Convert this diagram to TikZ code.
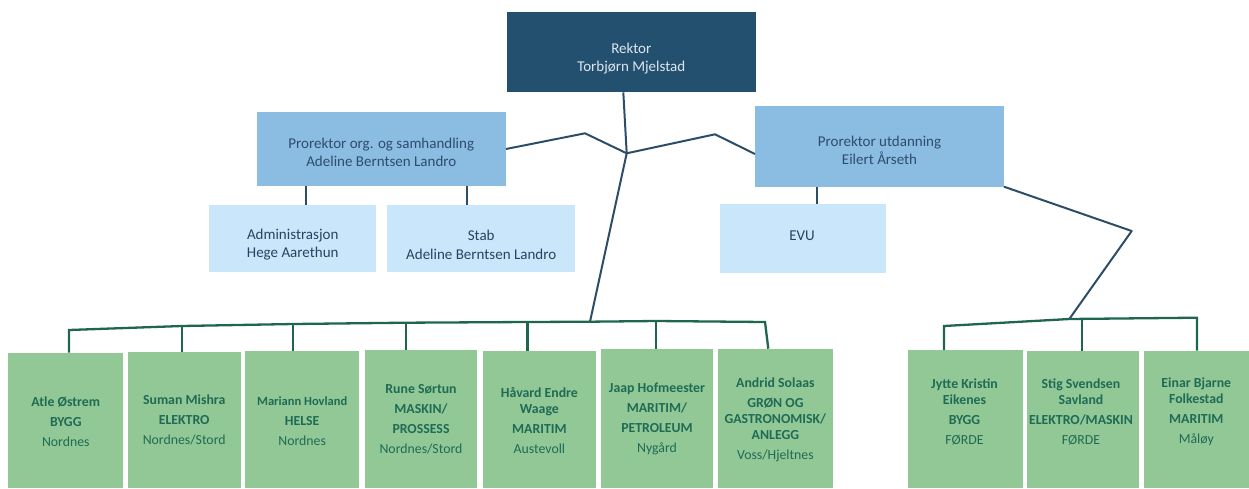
\documentclass[tikz,border=0pt]{standalone}
\usepackage{fontspec}
\setmainfont{Carlito}
\definecolor{rekfill}{HTML}{24506F}
\definecolor{rektext}{HTML}{DCE6EE}
\definecolor{profill}{HTML}{8BBDE3}
\definecolor{protext}{HTML}{2E4C6E}
\definecolor{subfill}{HTML}{C9E6FA}
\definecolor{subtext}{HTML}{2A4262}
\definecolor{grfill}{HTML}{92C896}
\definecolor{grtext}{HTML}{1F6B55}
\definecolor{upline}{HTML}{2C4D68}
\definecolor{lowline}{HTML}{1E6650}
\begin{document}
\begin{tikzpicture}[x=1pt,y=-1pt,
  basebox/.style={rectangle,anchor=north west,inner sep=0pt,outer sep=0pt,draw=none},
  rekbox/.style={basebox,fill=rekfill},
  probox/.style={basebox,fill=profill},
  subbox/.style={basebox,fill=subfill},
  gbox/.style={basebox,fill=grfill},
  bluetxt/.style={align=center,inner sep=0pt,font=\fontsize{15}{18.5}\selectfont},
  rektxt/.style={bluetxt,text=rektext},
  protxt/.style={bluetxt,text=protext},
  subtxt/.style={bluetxt,text=subtext},
  gtxt/.style={align=center,inner sep=0pt,text=grtext,font=\fontsize{13.8}{16}\selectfont},
  upconn/.style={draw=upline,line width=2pt,line join=round},
  lowconn/.style={draw=lowline,line width=2.3pt,line join=miter}
]
\useasboundingbox (0,0) rectangle (1249,488);

% top level
\node[rekbox,minimum width=249pt,minimum height=80.6pt] (rek) at (507,11.7) {};
\node[rektxt] (rekT) at (631.3,58.4) {Rektor\\Torbjørn Mjelstad};

\node[probox,minimum width=249.3pt,minimum height=74.3pt] (pro1) at (256.7,111.7) {};
\node[protxt] (pro1T) at (381.3,152.5) {Prorektor org. og samhandling\\Adeline Berntsen Landro};

\node[probox,minimum width=249pt,minimum height=81pt] (pro2) at (755,105.7) {};
\node[protxt] (pro2T) at (879.5,150.2) {Prorektor utdanning\\Eilert Årseth};

\node[subbox,minimum width=166.7pt,minimum height=67pt] (adm) at (209.3,205.3) {};
\node[subtxt] (admT) at (292.7,244.8) {Administrasjon\\Hege Aarethun};

\node[subbox,minimum width=187.7pt,minimum height=67pt] (stab) at (387.3,205.3) {};
\node[subtxt] (stabT) at (481.2,244.8) {Stab\\Adeline Berntsen Landro};

\node[subbox,minimum width=166pt,minimum height=68.4pt] (evu) at (720,204.3) {};
\node[subtxt] (evuT) at (802,235.5) {EVU};

% green boxes
\node[gbox,minimum width=115pt,minimum height=135.5pt] (g1) at (8.3,352.5) {};
\node[gbox,minimum width=113pt,minimum height=136.3pt] (g2) at (127.7,351.7) {};
\node[gbox,minimum width=114.3pt,minimum height=137.3pt] (g3) at (245,350.7) {};
\node[gbox,minimum width=112pt,minimum height=138.5pt] (g4) at (365,349.5) {};
\node[gbox,minimum width=113.3pt,minimum height=137.5pt] (g5) at (482.7,350.5) {};
\node[gbox,minimum width=112pt,minimum height=139.3pt] (g6) at (601,348.7) {};
\node[gbox,minimum width=114.7pt,minimum height=139.3pt] (g7) at (718,348.7) {};
\node[gbox,minimum width=115pt,minimum height=138pt] (g8) at (908,350) {};
\node[gbox,minimum width=112pt,minimum height=137.5pt] (g9) at (1027,350.5) {};
\node[gbox,minimum width=108pt,minimum height=137.5pt] (g10) at (1144,350.5) {};

\node[gtxt] (g1T) at (65.8,421.7) {\textbf{Atle Østrem}\\[4pt]\textbf{BYGG}\\[4pt]Nordnes};
\node[gtxt] (g2T) at (184.2,420) {\textbf{Suman Mishra}\\[4pt]\textbf{ELEKTRO}\\[4pt]Nordnes/Stord};
\node[gtxt] (g3T) at (302.2,421) {{\fontsize{12.5}{16}\selectfont\textbf{Mariann Hovland}}\\[4pt]\textbf{HELSE}\\[4pt]Nordnes};
\node[gtxt] (g4T) at (421,419) {\textbf{Rune Sørtun}\\[4pt]\textbf{MASKIN/}\\[4pt]\textbf{PROSSESS}\\[4pt]Nordnes/Stord};
\node[gtxt] (g5T) at (539.4,421) {\textbf{Håvard Endre}\\\textbf{Waage}\\[4pt]\textbf{MARITIM}\\[4pt]Austevoll};
\node[gtxt] (g6T) at (657,419) {\textbf{Jaap Hofmeester}\\[4pt]\textbf{MARITIM/}\\[4pt]\textbf{PETROLEUM}\\[4pt]Nygård};
\node[gtxt] (g7T) at (775.4,419.5) {\textbf{Andrid Solaas}\\[4pt]\textbf{GRØN OG}\\\textbf{GASTRONOMISK/}\\\textbf{ANLEGG}\\[4pt]Voss/Hjeltnes};
\node[gtxt] (g8T) at (964.5,412) {\textbf{Jytte Kristin}\\\textbf{Eikenes}\\[4pt]\textbf{BYGG}\\[4pt]FØRDE};
\node[gtxt] (g9T) at (1081,412) {\textbf{Stig Svendsen}\\\textbf{Savland}\\[4pt]\textbf{ELEKTRO/MASKIN}\\[4pt]FØRDE};
\node[gtxt] (g10T) at (1196.3,412) {\textbf{Einar Bjarne}\\\textbf{Folkestad}\\[4pt]\textbf{MARITIM}\\[4pt]Måløy};

% junction points
\coordinate (J) at (626.7,153.3);
\coordinate (k1) at (585,133.3);
\coordinate (k2) at (715,134.3);
\coordinate (k3) at (1131.7,231);
% left bus
\coordinate (b1) at (69,330);
\coordinate (b2) at (181.7,326);
\coordinate (b3) at (293.3,324);
\coordinate (b4) at (406,322.7);
\coordinate (b5) at (527.5,322);
\coordinate (bm) at (590,321.7);
\coordinate (b6) at (656,321);
\coordinate (b7) at (765,322);
% right bus
\coordinate (r1) at (944,326);
\coordinate (rm) at (1069.3,319);
\coordinate (r2) at (1082,318.8);
\coordinate (r3) at (1197,317.7);

% upper connectors
\draw[upconn] (rek.south -| 623.3,0) -- (J);
\draw[upconn] (pro1.east |- 0,149) -- (k1) -- (J) -- (k2) -- (pro2.west |- 0,154);
\draw[upconn] (J) -- (bm);
\draw[upconn] (pro1.south -| 306,0) -- (adm.north -| 306,0);
\draw[upconn] (pro1.south -| 467.3,0) -- (stab.north -| 467.3,0);
\draw[upconn] (pro2.south -| 817.3,0) -- (evu.north -| 817.3,0);
\draw[upconn] (pro2.south east) -- (k3) -- (rm);

% lower connectors
\draw[lowconn] (b1 |- g1.north) -- (b1) -- (b2) -- (b3) -- (b4) -- (b5) -- (bm) -- (b6) -- (b7) -- (g7.north -| 768.3,0);
\draw[lowconn] (b2) -- (b2 |- g2.north);
\draw[lowconn] (b3) -- (b3 |- g3.north);
\draw[lowconn] (b4) -- (b4 |- g4.north);
\draw[lowconn] (b5) -- (b5 |- g5.north);
\draw[lowconn] (b6) -- (b6 |- g6.north);
\draw[lowconn] (r1 |- g8.north) -- (r1) -- (rm) -- (r3) -- (r3 |- g10.north);
\draw[lowconn] (r2) -- (r2 |- g9.north);
\end{tikzpicture}
\end{document}
